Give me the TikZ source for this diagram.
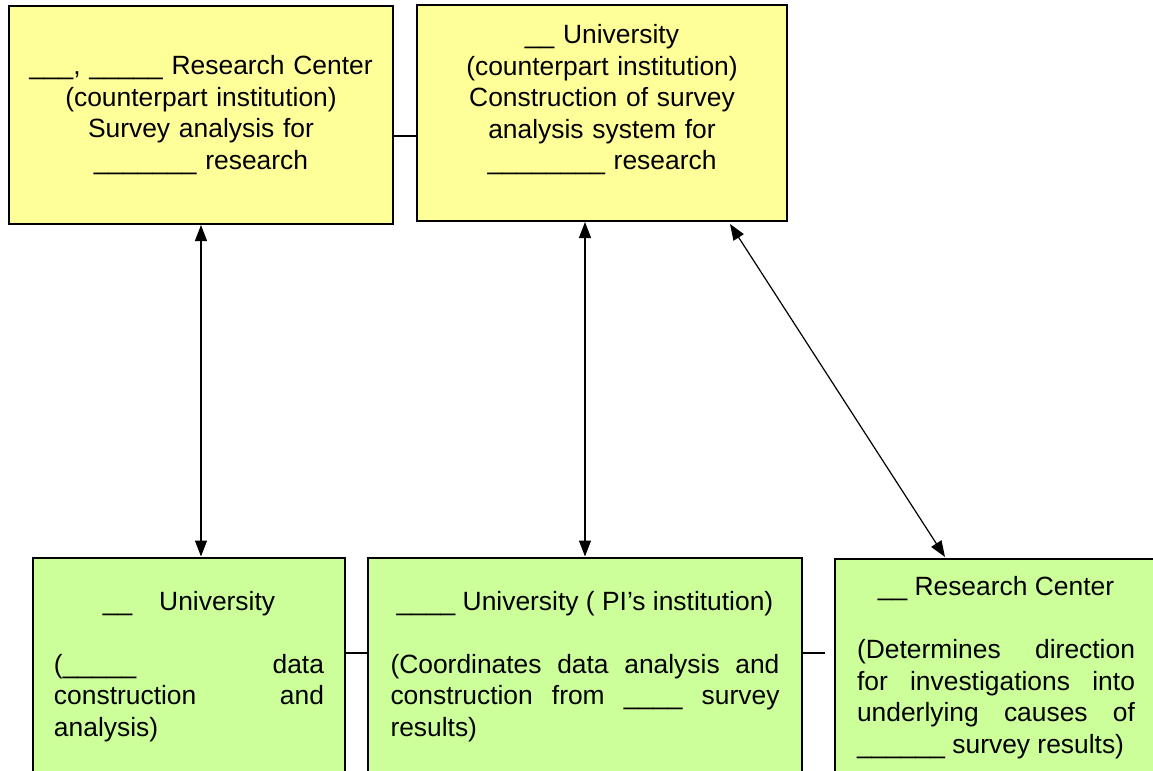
\documentclass[tikz,border=0pt]{standalone}
\usepackage{fontspec}
\setmainfont{Liberation Sans}
\usetikzlibrary{arrows.meta}
\usetikzlibrary{calc}

\definecolor{boxyellow}{HTML}{FFFF99}
\definecolor{boxgreen}{HTML}{CCFF99}

\begin{document}
\begin{tikzpicture}[x=0.5pt, y=-0.5pt,
    box/.style={draw, line width=1pt, font=\fontsize{13.2}{15.75}\selectfont, inner ysep=0pt},
    yellowbox/.style={box, fill=boxyellow, align=center},
    greenbox/.style={box, fill=boxgreen, align=justify, minimum height=109pt},
    link/.style={line width=0.6pt},
    >={Triangle[length=8pt,width=6pt]}]

    \useasboundingbox (0,0) rectangle (1153,771);
    \clip (0,0) rectangle (1153,771);

    \coordinate (ab) at (405,136);
    \coordinate (cd) at (357,653);
    \coordinate (de) at (825,653);
    \coordinate (tipb) at (730,224);
    \coordinate (tipe) at (945,557);

    % counterpart institutions
    \node[yellowbox, text width=180pt, inner xsep=6pt, minimum height=109pt] (topcenter) at (201,115)
        {\_\_\_, \_\_\_\_\_ Research Center\\ (counterpart institution)\\ Survey analysis for\\ \_\_\_\_\_\_\_ research};
    \node[yellowbox, text width=170pt, inner xsep=7.5pt, minimum height=108pt] (topuniv) at (602,113)
        {\_\_ University\\ (counterpart institution)\\ Construction of survey\\ analysis system for\\ \_\_\_\_\_\_\_\_ research\\ \mbox{}};

    % domestic side
    \node[greenbox, text width=135pt, inner xsep=10.5pt] (lowuniv) at (189,666.5)
        {\hspace*{\fill}\_\_\hspace{13.5pt}University\hspace*{\fill}\par\null\par
         (\_\_\_\_\_ data\linebreak construction and\linebreak analysis)};
    \node[greenbox, text width=194.5pt, inner xsep=11.25pt] (piuniv) at (585,666.5)
        {\hspace*{\fill}\_\_\_\_ University ( PI’s institution)\hspace*{\fill}\par\null\par
         (Coordinates data analysis and\linebreak construction from \_\_\_\_ survey\linebreak results)};
    \node[greenbox, text width=139pt, inner xsep=11pt, minimum height=108.5pt] (lowcenter) at (996,667.5)
        {\hspace*{\fill}\_\_ Research Center\hspace*{\fill}\par\null\par
         (Determines direction\linebreak for investigations into\linebreak underlying causes of\linebreak \_\_\_\_\_\_ survey results)};

    \draw[link] (topcenter.east |- ab) -- (topuniv.west |- ab);
    \draw[link] (lowuniv.east |- cd) -- (piuniv.west |- cd);
    \draw[link] (piuniv.east |- de) -- (de);

    \draw[link, <->] (topcenter.south) -- (topcenter.south |- lowuniv.north);
    \draw[link, <->] (piuniv.north |- topuniv.south) -- (piuniv.north);
    \draw[link, <->] (tipb) -- (tipe);

\end{tikzpicture}
\end{document}
